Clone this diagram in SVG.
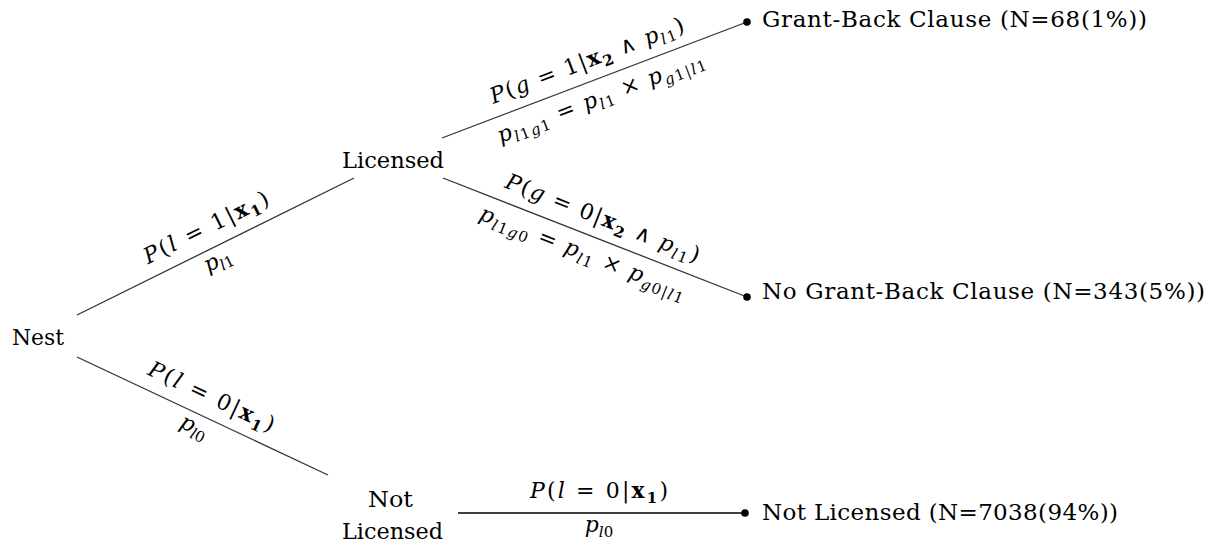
<svg xmlns="http://www.w3.org/2000/svg" width="1219" height="547" viewBox="0 0 1219 547">
<style>
text { font-family: "DejaVu Serif", "Liberation Serif", serif; font-size: 23px; fill: #000; }
.m { font-size: 22px; }
.i { font-style: italic; }
.b { font-weight: bold; }
.s { font-size: 15px; }
.edge { stroke: #333; stroke-width: 1.3; fill: none; }
.dot { fill: #000; }
</style>
<rect width="1219" height="547" fill="#fff"/>
<g id="connectors">
  <line class="edge" x1="77" y1="315" x2="354" y2="178"/>
  <line class="edge" x1="77" y1="357" x2="328" y2="475"/>
  <line class="edge" x1="442" y1="138" x2="747" y2="22"/>
  <line class="edge" x1="443" y1="178" x2="747" y2="297"/>
  <line class="edge" x1="458" y1="513" x2="745" y2="513" style="stroke:#000;stroke-width:1.5"/>
  <circle class="dot" cx="747" cy="22" r="3.8"/>
  <circle class="dot" cx="747" cy="297" r="3.8"/>
  <circle class="dot" cx="745" cy="513" r="3.8"/>
  <g id="label-nest-licensed" transform="translate(215.5,246.5) rotate(-26.3)">
    <text class="m" x="0" y="-14" text-anchor="middle" textLength="137" lengthAdjust="spacing"><tspan class="i">P</tspan>(<tspan class="i">l</tspan> = 1|<tspan class="b">x</tspan><tspan class="b s" dy="5">1</tspan><tspan dy="-5">)</tspan></text>
    <text class="m" x="-4" y="20" text-anchor="middle"><tspan class="i">p</tspan><tspan class="s" dy="5"><tspan class="i">l</tspan>1</tspan></text>
  </g>
  <g id="label-nest-notlicensed" transform="translate(202.5,416) rotate(25.2)">
    <text class="m" x="0" y="-14" text-anchor="middle" textLength="137" lengthAdjust="spacing"><tspan class="i">P</tspan>(<tspan class="i">l</tspan> = 0|<tspan class="b">x</tspan><tspan class="b s" dy="5">1</tspan><tspan dy="-5">)</tspan></text>
    <text class="m" x="-3" y="20" text-anchor="middle"><tspan class="i">p</tspan><tspan class="s" dy="5"><tspan class="i">l</tspan>0</tspan></text>
  </g>
  <g id="label-licensed-gb" transform="translate(594.5,80.5) rotate(-20.8)">
    <text class="m" x="0" y="-14" text-anchor="middle" textLength="206" lengthAdjust="spacing"><tspan class="i">P</tspan>(<tspan class="i">g</tspan> = 1|<tspan class="b">x</tspan><tspan class="b s" dy="5">2</tspan><tspan dy="-5"> ∧ </tspan><tspan class="i">p</tspan><tspan class="s" dy="5"><tspan class="i">l</tspan>1</tspan><tspan dy="-5">)</tspan></text>
    <text class="m" x="0" y="25" text-anchor="middle" textLength="220" lengthAdjust="spacing"><tspan class="i">p</tspan><tspan class="s" dy="5"><tspan class="i">l</tspan>1<tspan class="i">g</tspan>1</tspan><tspan dy="-5"> = </tspan><tspan class="i">p</tspan><tspan class="s" dy="5"><tspan class="i">l</tspan>1</tspan><tspan dy="-5"> × </tspan><tspan class="i">p</tspan><tspan class="s" dy="5"><tspan class="i">g</tspan>1|<tspan class="i">l</tspan>1</tspan></text>
  </g>
  <g id="label-licensed-nogb" transform="translate(595,238) rotate(21.4)">
    <text class="m" x="0" y="-14" text-anchor="middle" textLength="207" lengthAdjust="spacing"><tspan class="i">P</tspan>(<tspan class="i">g</tspan> = 0|<tspan class="b">x</tspan><tspan class="b s" dy="5">2</tspan><tspan dy="-5"> ∧ </tspan><tspan class="i">p</tspan><tspan class="s" dy="5"><tspan class="i">l</tspan>1</tspan><tspan dy="-5">)</tspan></text>
    <text class="m" x="-6" y="25" text-anchor="middle" textLength="220" lengthAdjust="spacing"><tspan class="i">p</tspan><tspan class="s" dy="5"><tspan class="i">l</tspan>1<tspan class="i">g</tspan>0</tspan><tspan dy="-5"> = </tspan><tspan class="i">p</tspan><tspan class="s" dy="5"><tspan class="i">l</tspan>1</tspan><tspan dy="-5"> × </tspan><tspan class="i">p</tspan><tspan class="s" dy="5"><tspan class="i">g</tspan>0|<tspan class="i">l</tspan>1</tspan></text>
  </g>
  <g id="label-notlicensed-terminal">
    <text class="m" x="599" y="498" text-anchor="middle" textLength="138" lengthAdjust="spacing"><tspan class="i">P</tspan>(<tspan class="i">l</tspan> = 0|<tspan class="b">x</tspan><tspan class="b s" dy="5">1</tspan><tspan dy="-5">)</tspan></text>
    <text class="m" x="599" y="532" text-anchor="middle"><tspan class="i">p</tspan><tspan class="s" dy="5"><tspan class="i">l</tspan>0</tspan></text>
  </g>
</g>
<g id="node-nest"><text x="12" y="345" textLength="52" lengthAdjust="spacingAndGlyphs">Nest</text></g>
<g id="node-licensed"><text x="342" y="168" textLength="102" lengthAdjust="spacingAndGlyphs">Licensed</text></g>
<g id="node-notlicensed">
  <text x="368" y="507" textLength="45" lengthAdjust="spacingAndGlyphs">Not</text>
  <text x="342" y="539" textLength="101" lengthAdjust="spacingAndGlyphs">Licensed</text>
</g>
<g id="node-gb"><text x="762" y="27" textLength="385" lengthAdjust="spacing">Grant-Back Clause (N=68(1%))</text></g>
<g id="node-nogb"><text x="762" y="299" textLength="443" lengthAdjust="spacing">No Grant-Back Clause (N=343(5%))</text></g>
<g id="node-nl"><text x="762" y="520" textLength="356" lengthAdjust="spacing">Not Licensed (N=7038(94%))</text></g>
</svg>
